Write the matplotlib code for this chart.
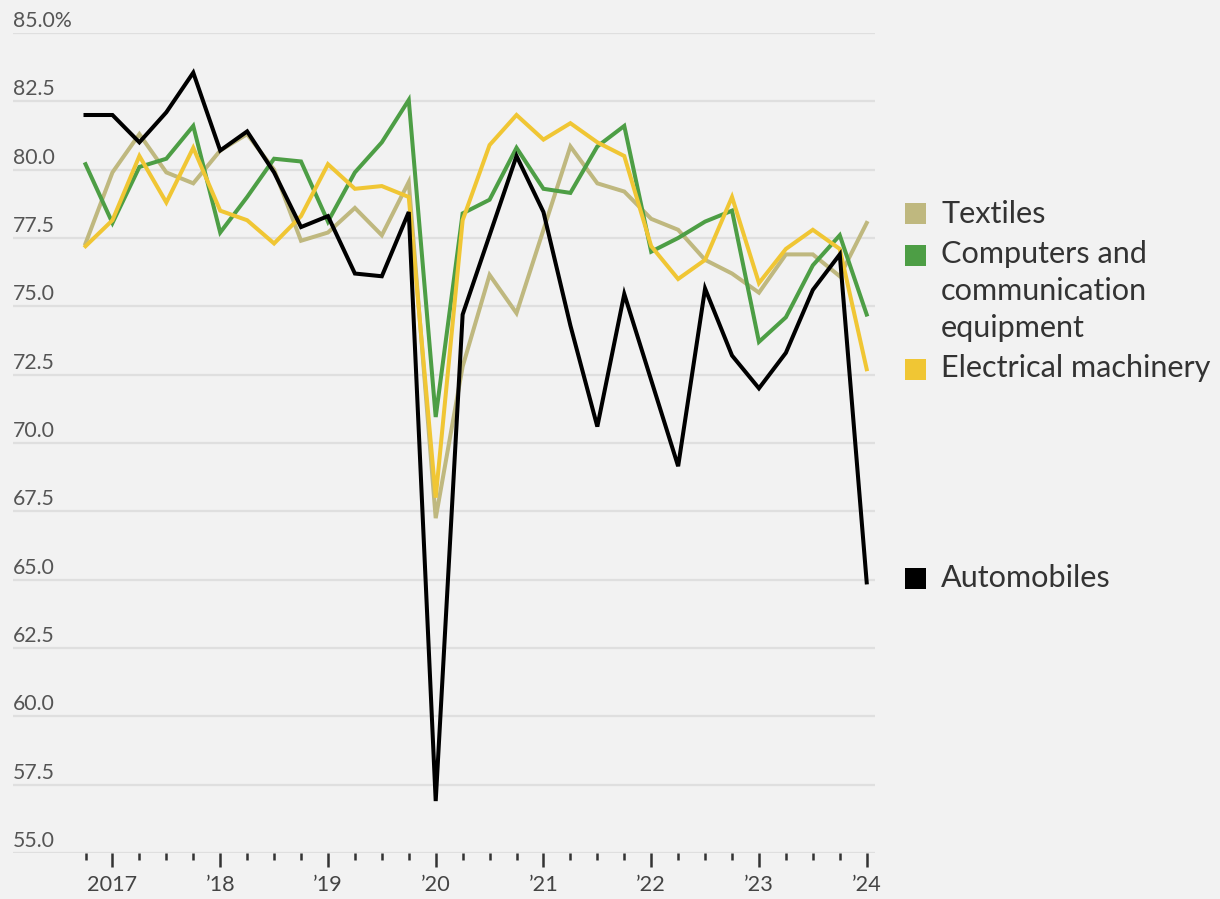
import matplotlib
matplotlib.use("Agg")
import matplotlib.pyplot as plt
from matplotlib.patches import Rectangle
from matplotlib.transforms import blended_transform_factory, offset_copy
from matplotlib.ticker import FixedLocator

# ---------------- data ----------------
quarters = ["2016Q4",
            "2017Q1", "2017Q2", "2017Q3", "2017Q4",
            "2018Q1", "2018Q2", "2018Q3", "2018Q4",
            "2019Q1", "2019Q2", "2019Q3", "2019Q4",
            "2020Q1", "2020Q2", "2020Q3", "2020Q4",
            "2021Q1", "2021Q2", "2021Q3", "2021Q4",
            "2022Q1", "2022Q2", "2022Q3", "2022Q4",
            "2023Q1", "2023Q2", "2023Q3", "2023Q4",
            "2024Q1"]

textiles = [77.3, 79.9, 81.3, 79.9, 79.5, 80.7, 81.3, 80.0, 77.4, 77.7,
            78.6, 77.6, 79.55, 67.25, 72.8, 76.15, 74.75, 77.8, 80.85, 79.5,
            79.2, 78.2, 77.8, 76.7, 76.2, 75.5, 76.9, 76.9, 76.1, 78.05]

computers = [80.2, 78.05, 80.1, 80.4, 81.6, 77.7, 79.0, 80.4, 80.3, 78.1,
             79.9, 81.0, 82.55, 70.95, 78.4, 78.9, 80.8, 79.3, 79.15, 80.85,
             81.6, 77.0, 77.5, 78.1, 78.5, 73.7, 74.6, 76.5, 77.6, 74.7]

electrical = [77.2, 78.15, 80.5, 78.8, 80.8, 78.5, 78.15, 77.3, 78.3, 80.2,
              79.3, 79.4, 79.0, 68.0, 78.15, 80.9, 82.0, 81.1, 81.7, 81.0,
              80.5, 77.2, 76.0, 76.7, 79.0, 75.85, 77.1, 77.8, 77.1, 72.7]

automobiles = [82.0, 82.0, 81.0, 82.1, 83.55, 80.7, 81.4, 79.9, 77.9, 78.3,
               76.2, 76.1, 78.45, 56.9, 74.7, 77.6, 80.5, 78.45, 74.3, 70.6,
               75.45, 72.3, 69.15, 75.65, 73.2, 72.0, 73.3, 75.6, 76.9, 64.9]

series_names = ["Textiles", "Computers and\ncommunication\nequipment",
                "Electrical machinery", "Automobiles"]
series_colors = ["#bfb87f", "#4d9e45", "#f0c634", "#000000"]

year_ticks = [2017, 2018, 2019, 2020, 2021, 2022, 2023, 2024]
year_labels = ["2017", "\u201918", "\u201919", "\u201920", "\u201921",
               "\u201922", "\u201923", "\u201924"]
y_ticks = [55.0, 57.5, 60.0, 62.5, 65.0, 67.5, 70.0, 72.5, 75.0, 77.5,
           80.0, 82.5, 85.0]

# ---------------- style ----------------
plt.rcParams["font.family"] = ["Lato", "DejaVu Sans"]

BG = "#f2f2f2"
W, H = 1220, 899
fig = plt.figure(figsize=(W / 100, H / 100), dpi=100, facecolor=BG)
renderer = fig.canvas.get_renderer()


def fit_size(text, target_px, base=20.0):
    t = fig.text(0, 0, text, fontsize=base)
    w = t.get_window_extent(renderer=renderer).width
    t.remove()
    return base * target_px / w


fs_y = fit_size("85.0%", 59)
fs_x = fit_size("2017", 50)
fs_leg = fit_size("Electrical machinery", 271)

ax_l, ax_r, ax_t, ax_b = 13, 875, 33, 853
ax = fig.add_axes([ax_l / W, 1 - ax_b / H, (ax_r - ax_l) / W, (ax_b - ax_t) / H])
ax.set_facecolor(BG)

x = [int(q[:4]) + (int(q[-1]) - 1) / 4 for q in quarters]

for vals, col in zip([textiles, computers, electrical, automobiles], series_colors):
    ax.plot(x, vals, color=col, lw=2.9, solid_joinstyle="miter", zorder=3)

ax.set_xlim(2016.077, 2024.077)
ax.set_ylim(55, 85)

for s in ax.spines.values():
    s.set_visible(False)

for v in y_ticks:
    ax.axhline(v, color="#dfdfdf", lw=1.6, zorder=1)

ax.set_yticks([])
trans = offset_copy(blended_transform_factory(ax.transAxes, ax.transData),
                    fig=fig, x=0, y=6, units="dots")
for v in y_ticks:
    lab = f"{v:.1f}%" if v == 85.0 else f"{v:.1f}"
    ax.text(0, v, lab, transform=trans, ha="left", va="baseline",
            fontsize=fs_y, color="#555555")

ax.set_xticks(year_ticks)
ax.set_xticklabels(year_labels)
ax.xaxis.set_minor_locator(FixedLocator([v for v in x if v not in year_ticks]))
ax.tick_params(axis="x", which="major", length=10, width=1.8, color="#333333",
               labelsize=fs_x, labelcolor="#444444", pad=6)
ax.tick_params(axis="x", which="minor", length=5, width=1.8, color="#333333")
ax.tick_params(axis="y", length=0)

txt_x = 941
sq_x, sq_w = 905, 21
entries = [
    (series_names[0], series_colors[0], 223, 213.5),
    (series_names[1], series_colors[1], 263, 255.5),
    (series_names[2], series_colors[2], 377, 369.5),
    (series_names[3], series_colors[3], 587, 578.5),
]
for name, col, base, sq_c in entries:
    fig.patches.append(Rectangle((sq_x / W, 1 - (sq_c + sq_w / 2) / H), sq_w / W, sq_w / H,
                                 transform=fig.transFigure, facecolor=col,
                                 edgecolor="none"))
    for k, line in enumerate(name.split("\n")):
        fig.text(txt_x / W, 1 - (base + 37 * k) / H, line, ha="left", va="baseline",
                 fontsize=fs_leg, color="#333333")

fig.savefig("out.png", dpi=100, facecolor=BG)
